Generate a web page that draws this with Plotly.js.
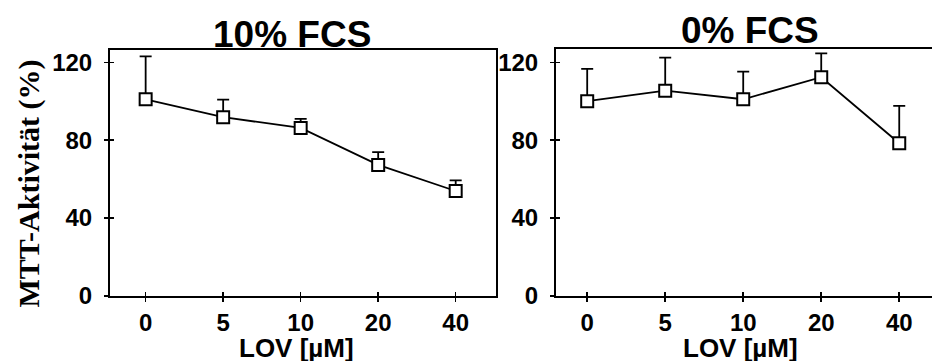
<!DOCTYPE html>
<html>
<head>
<meta charset="utf-8">
<script src="https://cdn.plot.ly/plotly-3.0.1.min.js"></script>
<style>html,body{margin:0;padding:0;background:#fff;}#chart{width:932px;height:361px;}</style>
</head>
<body>
<div id="chart"></div>
<script>
// ---- data ----
const categories = ['0', '5', '10', '20', '40'];          // LOV [µM]
const fcs10Values = [101, 91.8, 86.3, 67.3, 53.9];        // 10% FCS, MTT activity (%)
const fcs10Errors = [22, 9, 4.6, 6.6, 5.5];
const fcs0Values = [100, 105.4, 101, 112.3, 78.4];        // 0% FCS
const fcs0Errors = [16.6, 17, 14.2, 12.3, 19.2];
const yTickValues = [0, 40, 80, 120];
const panelTitles = ['10% FCS', '0% FCS'];
const xTitle = 'LOV [µM]';
const yTitle = 'MTT-Aktivität (%)';

// ---- styling ----
const W = 932, H = 361;
const sans = 'Liberation Sans, Arial, sans-serif';
const serif = 'Liberation Serif, Times New Roman, serif';
const tickFont = {family: sans, size: 24, color: '#000', weight: 'bold'};
const zeros = categories.map(() => 0);

function seriesTrace(vals, errs, xa, ya) {
  return {
    type: 'scatter', mode: 'lines+markers',
    x: categories, y: vals, xaxis: xa, yaxis: ya,
    line: {color: '#000', width: 1.8},
    marker: {symbol: 'square', size: 12, color: '#fff', line: {color: '#000', width: 2}},
    error_y: {type: 'data', symmetric: false, array: errs, arrayminus: zeros,
              color: '#000', thickness: 1.8, width: 6},
    showlegend: false, hoverinfo: 'skip'
  };
}

const traces = [
  seriesTrace(fcs10Values, fcs10Errors, 'x', 'y'),
  seriesTrace(fcs0Values, fcs0Errors, 'x2', 'y2'),
  {type: 'scatter', x: [], y: [], xaxis: 'x3', yaxis: 'y3', showlegend: false, hoverinfo: 'skip'},
  {type: 'scatter', x: [], y: [], xaxis: 'x4', yaxis: 'y4', showlegend: false, hoverinfo: 'skip'}
];

const d1x = [110 / W, 496 / W], d2x = [556 / W, 1];
const d1y = [1 - 296 / H, 1 - 50 / H], d2y = [1 - 296 / H, 1 - 49 / H];
const r1x = [-0.46, 4.52], r2x = [-0.40, 4.42];
const r1y = [0, 126.3], r2y = [0, 126.8];

function xMain(domain, range, anchor, mirror) {
  return {domain, range, anchor, type: 'category', showline: true, linecolor: '#000', linewidth: 2,
    mirror, ticks: 'outside', ticklen: 4, tickwidth: 1.5, tickcolor: '#000',
    tickfont: tickFont, ticklabelstandoff: 0, showgrid: false, zeroline: false, fixedrange: true};
}
function yMain(domain, range, anchor, mirror) {
  return {domain, range, anchor, showline: true, linecolor: '#000', linewidth: 2, mirror,
    tickmode: 'array', tickvals: yTickValues, ticktext: yTickValues.map(String),
    ticks: 'outside', ticklen: 4, tickwidth: 1.5, tickcolor: '#000',
    tickfont: tickFont, ticklabelstandoff: 7, showgrid: false, zeroline: false, fixedrange: true};
}
function xOver(over, domain, range, anchor) {
  return {overlaying: over, domain, range, anchor, type: 'linear', tickmode: 'array', tickvals: categories.map((c, i) => i),
    ticks: 'inside', ticklen: 4, tickwidth: 1.5, tickcolor: '#000', showticklabels: false,
    showline: false, showgrid: false, zeroline: false, fixedrange: true};
}
function yOver(over, domain, range, anchor) {
  return {overlaying: over, domain, range, anchor, tickmode: 'array', tickvals: yTickValues,
    ticks: 'inside', ticklen: 4, tickwidth: 1.5, tickcolor: '#000', showticklabels: false,
    showline: false, showgrid: false, zeroline: false, fixedrange: true};
}

const layout = {
  width: W, height: H, margin: {l: 0, r: 0, t: 0, b: 0},
  paper_bgcolor: '#fff', plot_bgcolor: '#fff', showlegend: false,
  xaxis: xMain(d1x, r1x, 'y', true),
  yaxis: yMain(d1y, r1y, 'x', true),
  xaxis2: xMain(d2x, r2x, 'y2', true),
  yaxis2: yMain(d2y, r2y, 'x2', false),
  xaxis3: xOver('x', d1x, r1x, 'y'),
  yaxis3: yOver('y', d1y, r1y, 'x'),
  xaxis4: xOver('x2', d2x, r2x, 'y2'),
  yaxis4: yOver('y2', d2y, r2y, 'x2'),
  annotations: [
    {text: panelTitles[0], xref: 'paper', yref: 'paper', x: 291.5 / W, y: 1 - 35 / H,
     xanchor: 'center', yanchor: 'middle', showarrow: false,
     font: {family: sans, size: 37, color: '#000', weight: 'bold'}},
    {text: panelTitles[1], xref: 'paper', yref: 'paper', x: 750 / W, y: 1 - 31 / H,
     xanchor: 'center', yanchor: 'middle', showarrow: false,
     font: {family: sans, size: 37, color: '#000', weight: 'bold'}},
    {text: xTitle, xref: 'paper', yref: 'paper', x: 296 / W, y: 1 - 348 / H,
     xanchor: 'center', yanchor: 'middle', showarrow: false,
     font: {family: sans, size: 26, color: '#000', weight: 'bold'}},
    {text: xTitle, xref: 'paper', yref: 'paper', x: 740 / W, y: 1 - 348 / H,
     xanchor: 'center', yanchor: 'middle', showarrow: false,
     font: {family: sans, size: 26, color: '#000', weight: 'bold'}},
    {text: yTitle, xref: 'paper', yref: 'paper', x: 28 / W, y: 1 - 183.5 / H,
     xanchor: 'center', yanchor: 'middle', textangle: -90, showarrow: false,
     font: {family: serif, size: 30, color: '#000', weight: 'bold'}}
  ]
};

Plotly.newPlot('chart', traces, layout, {staticPlot: true, displayModeBar: false});
</script>
</body>
</html>
